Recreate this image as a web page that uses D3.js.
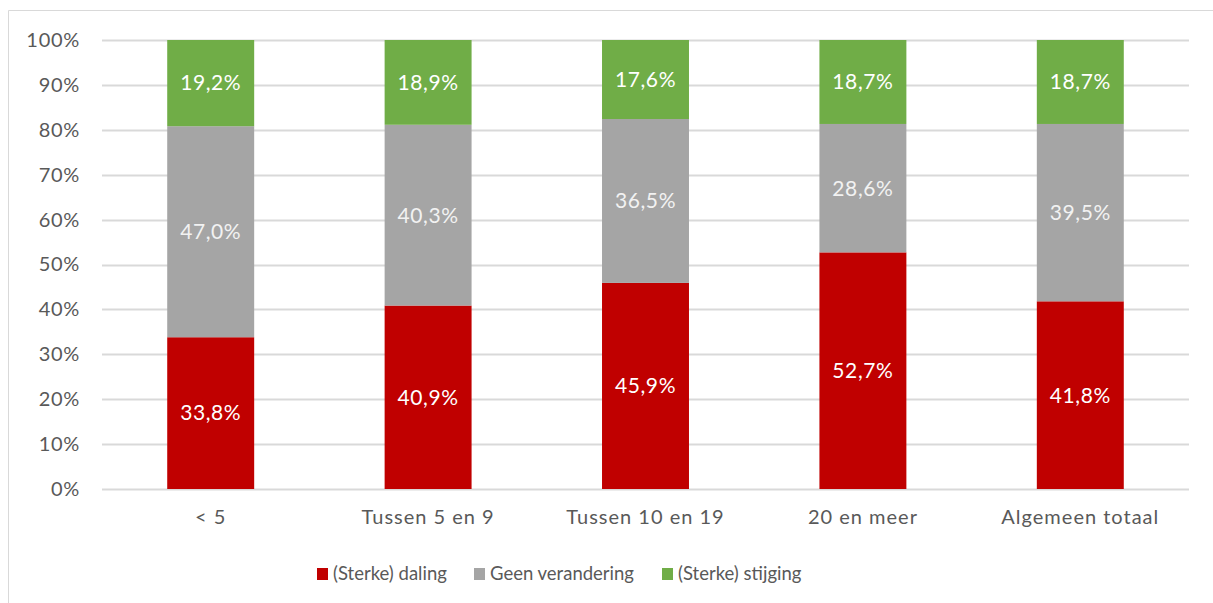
<!DOCTYPE html>
<html>
<head>
<meta charset="utf-8">
<script src="https://cdnjs.cloudflare.com/ajax/libs/d3/7.8.5/d3.min.js"></script>
<style>
  body { margin: 0; background: #fff; }
  text { font-family: Lato, "Open Sans", sans-serif; }
</style>
</head>
<body>
<div id="chart"></div>
<script>
// categories and series (percentages)
const categories = ["< 5", "Tussen 5 en 9", "Tussen 10 en 19", "20 en meer", "Algemeen totaal"];
const seriesNames = ["(Sterke) daling", "Geen verandering", "(Sterke) stijging"];
const daling = [33.8, 40.9, 45.9, 52.7, 41.8];
const geen = [47.0, 40.3, 36.5, 28.6, 39.5];
const stijging = [19.2, 18.9, 17.6, 18.7, 18.7];
const colors = ["#C00000", "#A5A5A5", "#70AD47"];
const labelColors = ["#ffffff", "#f2f2f2", "#ffffff"];
const yTicks = [0, 10, 20, 30, 40, 50, 60, 70, 80, 90, 100];

const width = 1213, height = 603;
const margin = {top: 40, right: 24, bottom: 114, left: 102};
const innerW = width - margin.left - margin.right;
const innerH = height - margin.top - margin.bottom;

const svg = d3.select("#chart").append("svg")
    .attr("width", width)
    .attr("height", height);

// chart frame (only top and left edges visible in the picture)
svg.append("path")
    .attr("d", "M8.5," + height + "V10.5H" + width)
    .attr("fill", "none")
    .attr("stroke", "#d9d9d9")
    .attr("stroke-width", 1);

const g = svg.append("g")
    .attr("transform", "translate(" + margin.left + "," + margin.top + ")");

const x = d3.scaleBand()
    .domain(categories)
    .range([0, innerW])
    .paddingInner(0.6)
    .paddingOuter(0.3);

const y = d3.scaleLinear()
    .domain([0, 100])
    .range([innerH, 0]);

// gridlines
g.append("g")
    .selectAll("line")
    .data(yTicks)
    .join("line")
    .attr("x1", 0)
    .attr("x2", innerW)
    .attr("y1", d => Math.round(y(d)) + 0.5)
    .attr("y2", d => Math.round(y(d)) + 0.5)
    .attr("stroke", "#d9d9d9")
    .attr("stroke-width", 2);

// y axis labels
const yAxis = g.append("g")
    .call(d3.axisLeft(y).tickValues(yTicks).tickFormat(d => d + "%").tickSize(0).tickPadding(22));
yAxis.select(".domain").remove();
yAxis.selectAll("text")
    .attr("fill", "#595959")
    .style("font-size", "20px")
    .style("letter-spacing", "0.7px");

// x axis labels
const xAxis = g.append("g")
    .attr("transform", "translate(0," + innerH + ")")
    .call(d3.axisBottom(x).tickSize(0).tickPadding(21));
xAxis.select(".domain").remove();
xAxis.selectAll("text")
    .attr("fill", "#595959")
    .style("font-size", "20px")
    .style("letter-spacing", "1px");

// build stacked table
const table = categories.map((c, i) => {
    const tot = daling[i] + geen[i] + stijging[i];
    return {cat: c, s0: daling[i] / tot * 100, s1: geen[i] / tot * 100, s2: stijging[i] / tot * 100,
            v0: daling[i], v1: geen[i], v2: stijging[i]};
});
const stack = d3.stack().keys(["s0", "s1", "s2"])(table);

const layers = g.selectAll("g.layer")
    .data(stack)
    .join("g")
    .attr("class", "layer")
    .attr("fill", (d, i) => colors[i]);

layers.selectAll("rect")
    .data(d => d)
    .join("rect")
    .attr("x", d => x(d.data.cat))
    .attr("width", x.bandwidth())
    .attr("y", d => y(d[1]))
    .attr("height", d => y(d[0]) - y(d[1]));

const fmt = v => v.toFixed(1).replace(".", ",") + "%";

layers.each(function(layer, li) {
    d3.select(this).selectAll("text")
        .data(layer)
        .join("text")
        .attr("x", d => x(d.data.cat) + x.bandwidth() / 2)
        .attr("y", d => y((d[0] + d[1]) / 2))
        .attr("dy", "0.35em")
        .attr("text-anchor", "middle")
        .attr("fill", labelColors[li])
        .style("font-size", "21px")
        .style("letter-spacing", "0.6px")
        .text(d => fmt(d.data["v" + li]));
});

// legend
const legendX = [317, 474, 662];
const legend = svg.append("g");
seriesNames.forEach((name, i) => {
    legend.append("rect")
        .attr("x", legendX[i])
        .attr("y", 568)
        .attr("width", 11)
        .attr("height", 12)
        .attr("fill", colors[i]);
    legend.append("text")
        .attr("x", legendX[i] + 16)
        .attr("y", 574)
        .attr("dy", "0.35em")
        .attr("fill", "#595959")
        .style("font-size", "18.5px")
        .text(name);
});
</script>
</body>
</html>
